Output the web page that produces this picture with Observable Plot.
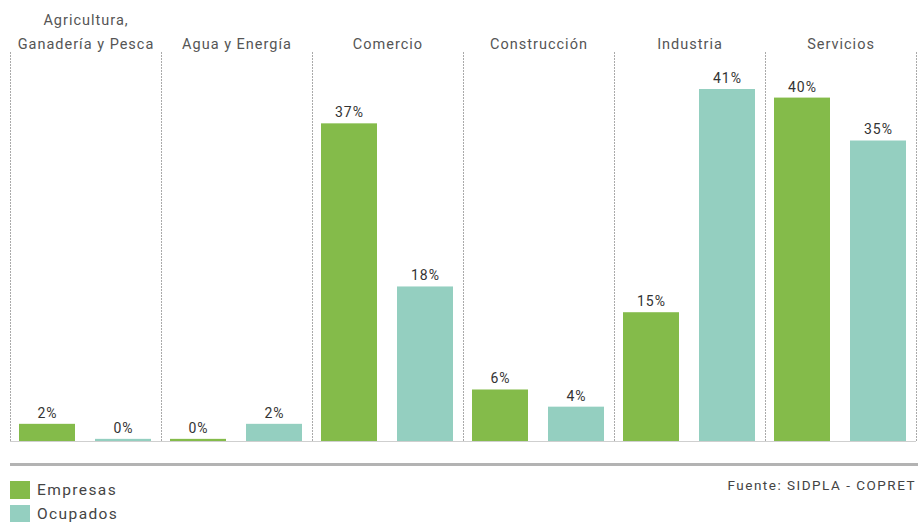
<!DOCTYPE html>
<html>
<head>
<meta charset="utf-8">
<script src="https://cdn.jsdelivr.net/npm/d3@7"></script>
<script src="https://cdn.jsdelivr.net/npm/@observablehq/plot@0.6"></script>
<style>
  html, body { margin: 0; padding: 0; background: #fff; }
  #wrap { position: relative; width: 918px; height: 522px; font-family: Roboto, "Noto Sans", sans-serif; overflow: hidden; }
  #chart { position: absolute; left: 0; top: 0; }
  #rule { position: absolute; left: 10px; top: 463px; width: 908px; height: 0; border-top: 3px solid #b3b3b3; }
  .leg { position: absolute; left: 10px; display: flex; align-items: center; font-size: 15.5px; color: #444; letter-spacing: 1.4px; }
  .sw { width: 20px; height: 18px; margin-right: 7px; }
  #src { position: absolute; right: 2px; top: 477px; font-size: 13.5px; color: #444; letter-spacing: 1.5px; }
</style>
</head>
<body>
<div id="wrap">
  <div id="chart"></div>
  <div id="rule"></div>
  <div class="leg" style="top:481px"><div class="sw" id="sw0"></div><span id="lg0"></span></div>
  <div class="leg" style="top:505px"><div class="sw" id="sw1"></div><span id="lg1"></span></div>
  <div id="src"></div>
</div>
<script>
const sectors = ["Agricultura,\nGanadería y Pesca", "Agua y Energía", "Comercio", "Construcción", "Industria", "Servicios"];
const series = ["Empresas", "Ocupados"];
const empresas = [2, 0.25, 37, 6, 15, 40];
const ocupados = [0.25, 2, 18, 4, 41, 35];
const colors = ["#84bb4a", "#94cfc0"];
const source = "Fuente: SIDPLA - COPRET";

const data = [];
sectors.forEach((s, i) => {
  data.push({sector: s, serie: series[0], value: empresas[i]});
  data.push({sector: s, serie: series[1], value: ocupados[i]});
});

const chart = Plot.plot({
  width: 918,
  height: 445,
  marginLeft: 10,
  marginRight: 2,
  marginTop: 52,
  marginBottom: 4,
  style: {fontFamily: "Roboto, 'Noto Sans', sans-serif", background: "#fff", letterSpacing: "1px"},
  fx: {domain: sectors, paddingInner: 0, paddingOuter: 0, axis: null, label: null},
  x: {domain: series, paddingInner: 0.26, paddingOuter: 0.12, axis: null, label: null},
  y: {domain: [0, 41], range: [441, 89], axis: null},
  color: {domain: series, range: colors},
  marks: [
    Plot.frame({anchor: "left", stroke: "#aaa", strokeDasharray: "1,2", strokeWidth: 1}),
    Plot.frame({anchor: "right", stroke: "#aaa", strokeDasharray: "1,2", strokeWidth: 1}),
    Plot.ruleY([0], {stroke: "#cfcfcf", strokeWidth: 1}),
    Plot.barY(data, {fx: "sector", x: "serie", y: "value", fill: "serie"}),
    Plot.text(data, {fx: "sector", x: "serie", y: "value", text: d => Math.round(d.value) + "%", dy: -11, fontSize: 14, fill: "#333"}),
    Plot.text(sectors, {fx: d => d, text: d => d, frameAnchor: "top", lineAnchor: "bottom", dy: -4, fontSize: 14.5, fill: "#555", lineHeight: 1.6})
  ]
});
document.getElementById("chart").appendChild(chart);
document.getElementById("sw0").style.background = colors[0];
document.getElementById("sw1").style.background = colors[1];
document.getElementById("lg0").textContent = series[0];
document.getElementById("lg1").textContent = series[1];
document.getElementById("src").textContent = source;
</script>
</body>
</html>
